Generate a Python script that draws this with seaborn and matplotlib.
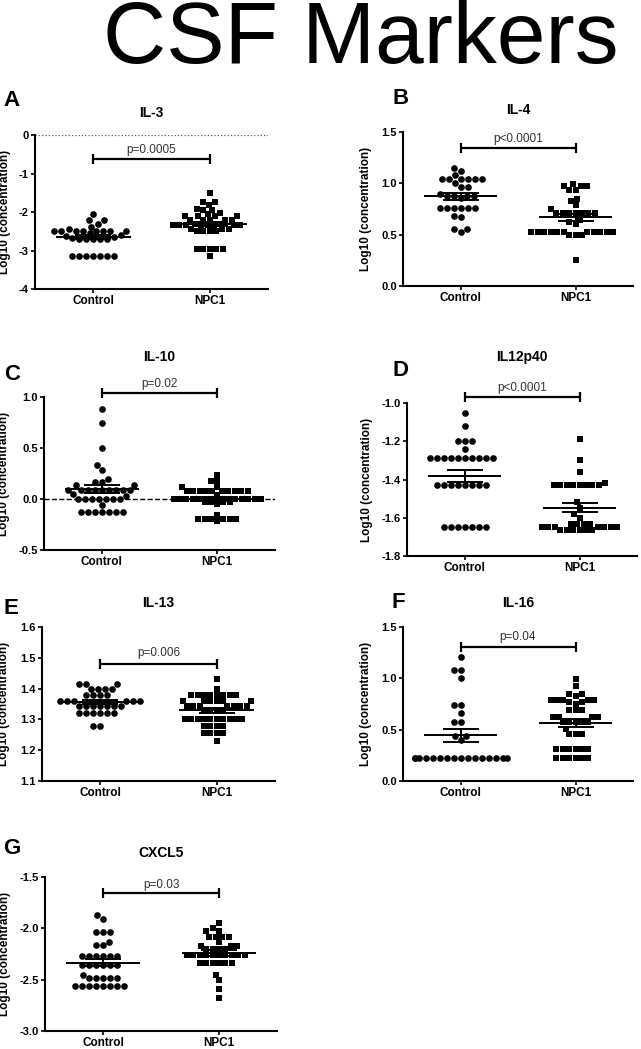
import warnings
warnings.filterwarnings('ignore')
import numpy as np
import matplotlib
matplotlib.use('Agg')
import matplotlib.pyplot as plt
import seaborn as sns

sns.set_theme(style='white')
plt.rcParams['font.family'] = ['Liberation Sans', 'DejaVu Sans']
plt.rcParams['axes.unicode_minus'] = False
plt.rcParams['text.color'] = 'black'
plt.rcParams['axes.labelcolor'] = 'black'
plt.rcParams['xtick.color'] = 'black'
plt.rcParams['ytick.color'] = 'black'

# ---------------- data ----------------
groups = ['Control', 'NPC1']
panel_letters = ['A', 'B', 'C', 'D', 'E', 'F', 'G']
panel_titles = ['IL-3', 'IL-4', 'IL-10', 'IL12p40', 'IL-13', 'IL-16', 'CXCL5']
p_labels = ['p=0.0005', 'p<0.0001', 'p=0.02', 'p<0.0001', 'p=0.006', 'p=0.04', 'p=0.03']

il3_control = [-2.04, -2.22, -2.22, -2.31, -2.38, -2.45] + [-2.5] * 8 + \
    [-2.55, -2.6, -2.62, -2.65, -2.68] + [-2.7] * 5 + [-3.14] * 7
il3_npc1 = [-1.51, -1.75, -1.81, -1.75, -1.94, -1.94, -1.93, -2.03, -2.05] + \
    [-2.1] * 4 + [-2.2] * 5 + [-2.3] * 2 + [-2.35] * 8 + [-2.45] * 3 + [-2.5] * 4 + \
    [-2.96] * 5 + [-3.14]

il4_control = [1.15, 1.12, 1.08] + [1.04] * 6 + [1.0, 0.96, 0.96, 0.9] + [0.88] * 4 + \
    [0.86] + [0.76] * 6 + [0.68, 0.67, 0.56, 0.56, 0.53]
il4_npc1 = [0.99, 0.97, 0.97, 0.97, 0.935, 0.935, 0.85, 0.825, 0.785, 0.747] + \
    [0.71] * 7 + [0.64, 0.62, 0.6] + [0.53] * 11 + [0.5] * 3 + [0.25]

il10_control = [0.88, 0.75, 0.5, 0.33, 0.28, 0.2, 0.17, 0.17, 0.14, 0.14] + \
    [0.09] * 9 + [0.05, 0.03] + [0.0] * 7 + [-0.06] + [-0.13] * 7
il10_npc1 = [0.24, 0.18, 0.18, 0.12, 0.12] + [0.08] * 10 + [0.04] + [0.0] * 10 + \
    [-0.03] * 4 + [-0.05, -0.16] + [-0.2] * 6 + [-0.22]

il12_control = [-1.05, -1.12, -1.2, -1.2, -1.2, -1.24] + [-1.29] * 10 + \
    [-1.43] * 8 + [-1.65] * 7
il12_npc1 = [-1.19, -1.3, -1.36, -1.42] + [-1.43] * 8 + [-1.52, -1.55, -1.58, -1.6] + \
    [-1.635] * 4 + [-1.65] * 7 + [-1.665] * 6

il13_control = [1.415] * 3 + [1.4] * 4 + [1.38] * 4 + [1.36] * 6 + [1.345] * 7 + \
    [1.32] * 6 + [1.28] * 2
il13_npc1 = [1.43, 1.4] + [1.38] * 8 + [1.36] * 6 + [1.345] * 7 + [1.33] * 4 + \
    [1.3] * 10 + [1.28] * 4 + [1.255] * 4 + [1.23]

il16_control = [1.21, 1.08, 1.08, 1.0, 0.74, 0.74, 0.66, 0.57, 0.57, 0.44, 0.44, 0.4] + \
    [0.22] * 16
il16_npc1 = [0.99, 0.93, 0.85, 0.85, 0.83] + [0.79] * 5 + [0.77, 0.77, 0.75] + \
    [0.69] * 3 + [0.62] * 4 + [0.57] * 5 + [0.51] + [0.46] * 3 + [0.31] * 6 + [0.22] * 6

cxcl5_control = [-1.87, -1.91] + [-2.04] * 3 + [-2.13, -2.16, -2.16] + [-2.27] * 6 + \
    [-2.36] * 6 + [-2.45] + [-2.48] * 5 + [-2.56] * 8
cxcl5_npc1 = [-1.95, -2.0, -2.03, -2.03] + [-2.08] * 4 + [-2.13] + [-2.17] * 3 + \
    [-2.2] * 4 + [-2.26] * 10 + [-2.34] * 6 + [-2.45, -2.5, -2.59, -2.68]

control_sets = [il3_control, il4_control, il10_control, il12_control,
                il13_control, il16_control, cxcl5_control]
npc1_sets = [il3_npc1, il4_npc1, il10_npc1, il12_npc1,
             il13_npc1, il16_npc1, cxcl5_npc1]

y_limits = [(-4, 0), (0, 1.5), (-0.5, 1.0), (-1.8, -1.0), (1.1, 1.6), (0, 1.5), (-3.0, -1.5)]
y_ticks = [[-4, -3, -2, -1, 0], [0, 0.5, 1.0, 1.5], [-0.5, 0, 0.5, 1.0],
           [-1.8, -1.6, -1.4, -1.2, -1.0], [1.1, 1.2, 1.3, 1.4, 1.5, 1.6],
           [0, 0.5, 1.0, 1.5], [-3.0, -2.5, -2.0, -1.5]]
tick_fmt = ['{:.0f}', '{:.1f}', '{:.1f}', '{:.1f}', '{:.1f}', '{:.1f}', '{:.1f}']
bracket_y = [-0.62, 1.343, 1.04, -0.968, 1.481, 1.31, -1.656]
ptext_y = [-0.40, 1.435, 1.13, -0.92, 1.516, 1.40, -1.575]

# ---------------- layout (pixels) ----------------
W, H = 641, 1049
# x0, x1, ytop, ybottom
boxes = [(35, 268, 135, 289), (403, 633, 132, 286), (44, 275, 397, 550),
         (407, 637, 403, 556), (42, 275, 627, 781), (403, 633, 627, 781),
         (45, 277, 877, 1031)]
letter_pos = [(12, 101), (401, 98), (12, 375), (400, 370), (11, 608), (398, 603), (12, 848)]
title_y = [113, 110, 357, 357, 603, 603, 853]
ylabel_x = [11, 372, 10, 373, 10, 372, 11]

fig = plt.figure(figsize=(W / 100, H / 100), dpi=100)
fig.text(361 / W, 1 - 40 / H, 'CSF Markers', fontsize=63, ha='center', va='center',
         color='black')

for k in range(7):
    x0, x1, yt, yb = boxes[k]
    ax = fig.add_axes([x0 / W, 1 - yb / H, (x1 - x0) / W, (yb - yt) / H])
    ax.set_facecolor('white')
    c = control_sets[k]
    n = npc1_sets[k]
    sns.swarmplot(x=['Control'] * len(c), y=c, order=groups, ax=ax, color='black',
                  marker='o', size=4.8, linewidth=0, zorder=3)
    sns.swarmplot(x=['NPC1'] * len(n), y=n, order=groups, ax=ax, color='black',
                  marker='s', size=4.4, linewidth=0, zorder=3)
    for i, vals in enumerate([c, n]):
        v = np.asarray(vals, dtype=float)
        m = v.mean()
        se = v.std(ddof=1) / np.sqrt(len(v))
        ax.hlines(m, i - 0.32, i + 0.32, color='black', lw=1.4, zorder=5)
        ax.errorbar(i, m, yerr=se, color='black', capsize=13, elinewidth=1.4,
                    capthick=1.4, zorder=5)
    if k == 0:
        ax.axhline(0, color='#555555', lw=0.9, ls=':', zorder=1)
    if k == 2:
        ax.axhline(0, color='black', lw=1.0, ls='--', zorder=1)

    ax.set_xlim(-0.5, 1.5)
    ax.set_ylim(*y_limits[k])
    ax.set_yticks(y_ticks[k], labels=[tick_fmt[k].format(t) for t in y_ticks[k]],
                  fontsize=8, fontweight='bold')
    ax.set_xticks([0, 1], labels=groups, fontsize=8.5, fontweight='bold')
    ax.set_xlabel('')
    ax.set_ylabel('Log10 (concentration)', fontsize=8.5, fontweight='bold')
    ax.yaxis.set_label_coords((ylabel_x[k] - x0) / (x1 - x0), 0.5)
    for s in ['top', 'right']:
        ax.spines[s].set_visible(False)
    for s in ['left', 'bottom']:
        ax.spines[s].set_color('black')
        ax.spines[s].set_linewidth(1.5)
    ax.tick_params(axis='both', direction='out', length=3, width=1.2, color='black',
                   pad=1.5, labelcolor='black', left=True, bottom=True)

    # significance bracket
    ax.plot([0, 1], [bracket_y[k], bracket_y[k]], color='black', lw=1.6,
            marker='|', markersize=7, mew=1.6, clip_on=False, zorder=6)
    ax.text(0.5, ptext_y[k], p_labels[k], ha='center', va='center', fontsize=8.5,
            color='#333333', clip_on=False)

    fig.text(letter_pos[k][0] / W, 1 - letter_pos[k][1] / H, panel_letters[k],
             fontsize=16, fontweight='bold', ha='center', va='center', color='black')
    fig.text(((x0 + x1) / 2) / W, 1 - title_y[k] / H, panel_titles[k],
             fontsize=10, fontweight='bold', ha='center', va='center', color='black')

fig.savefig('out.png', dpi=100, facecolor='white')
